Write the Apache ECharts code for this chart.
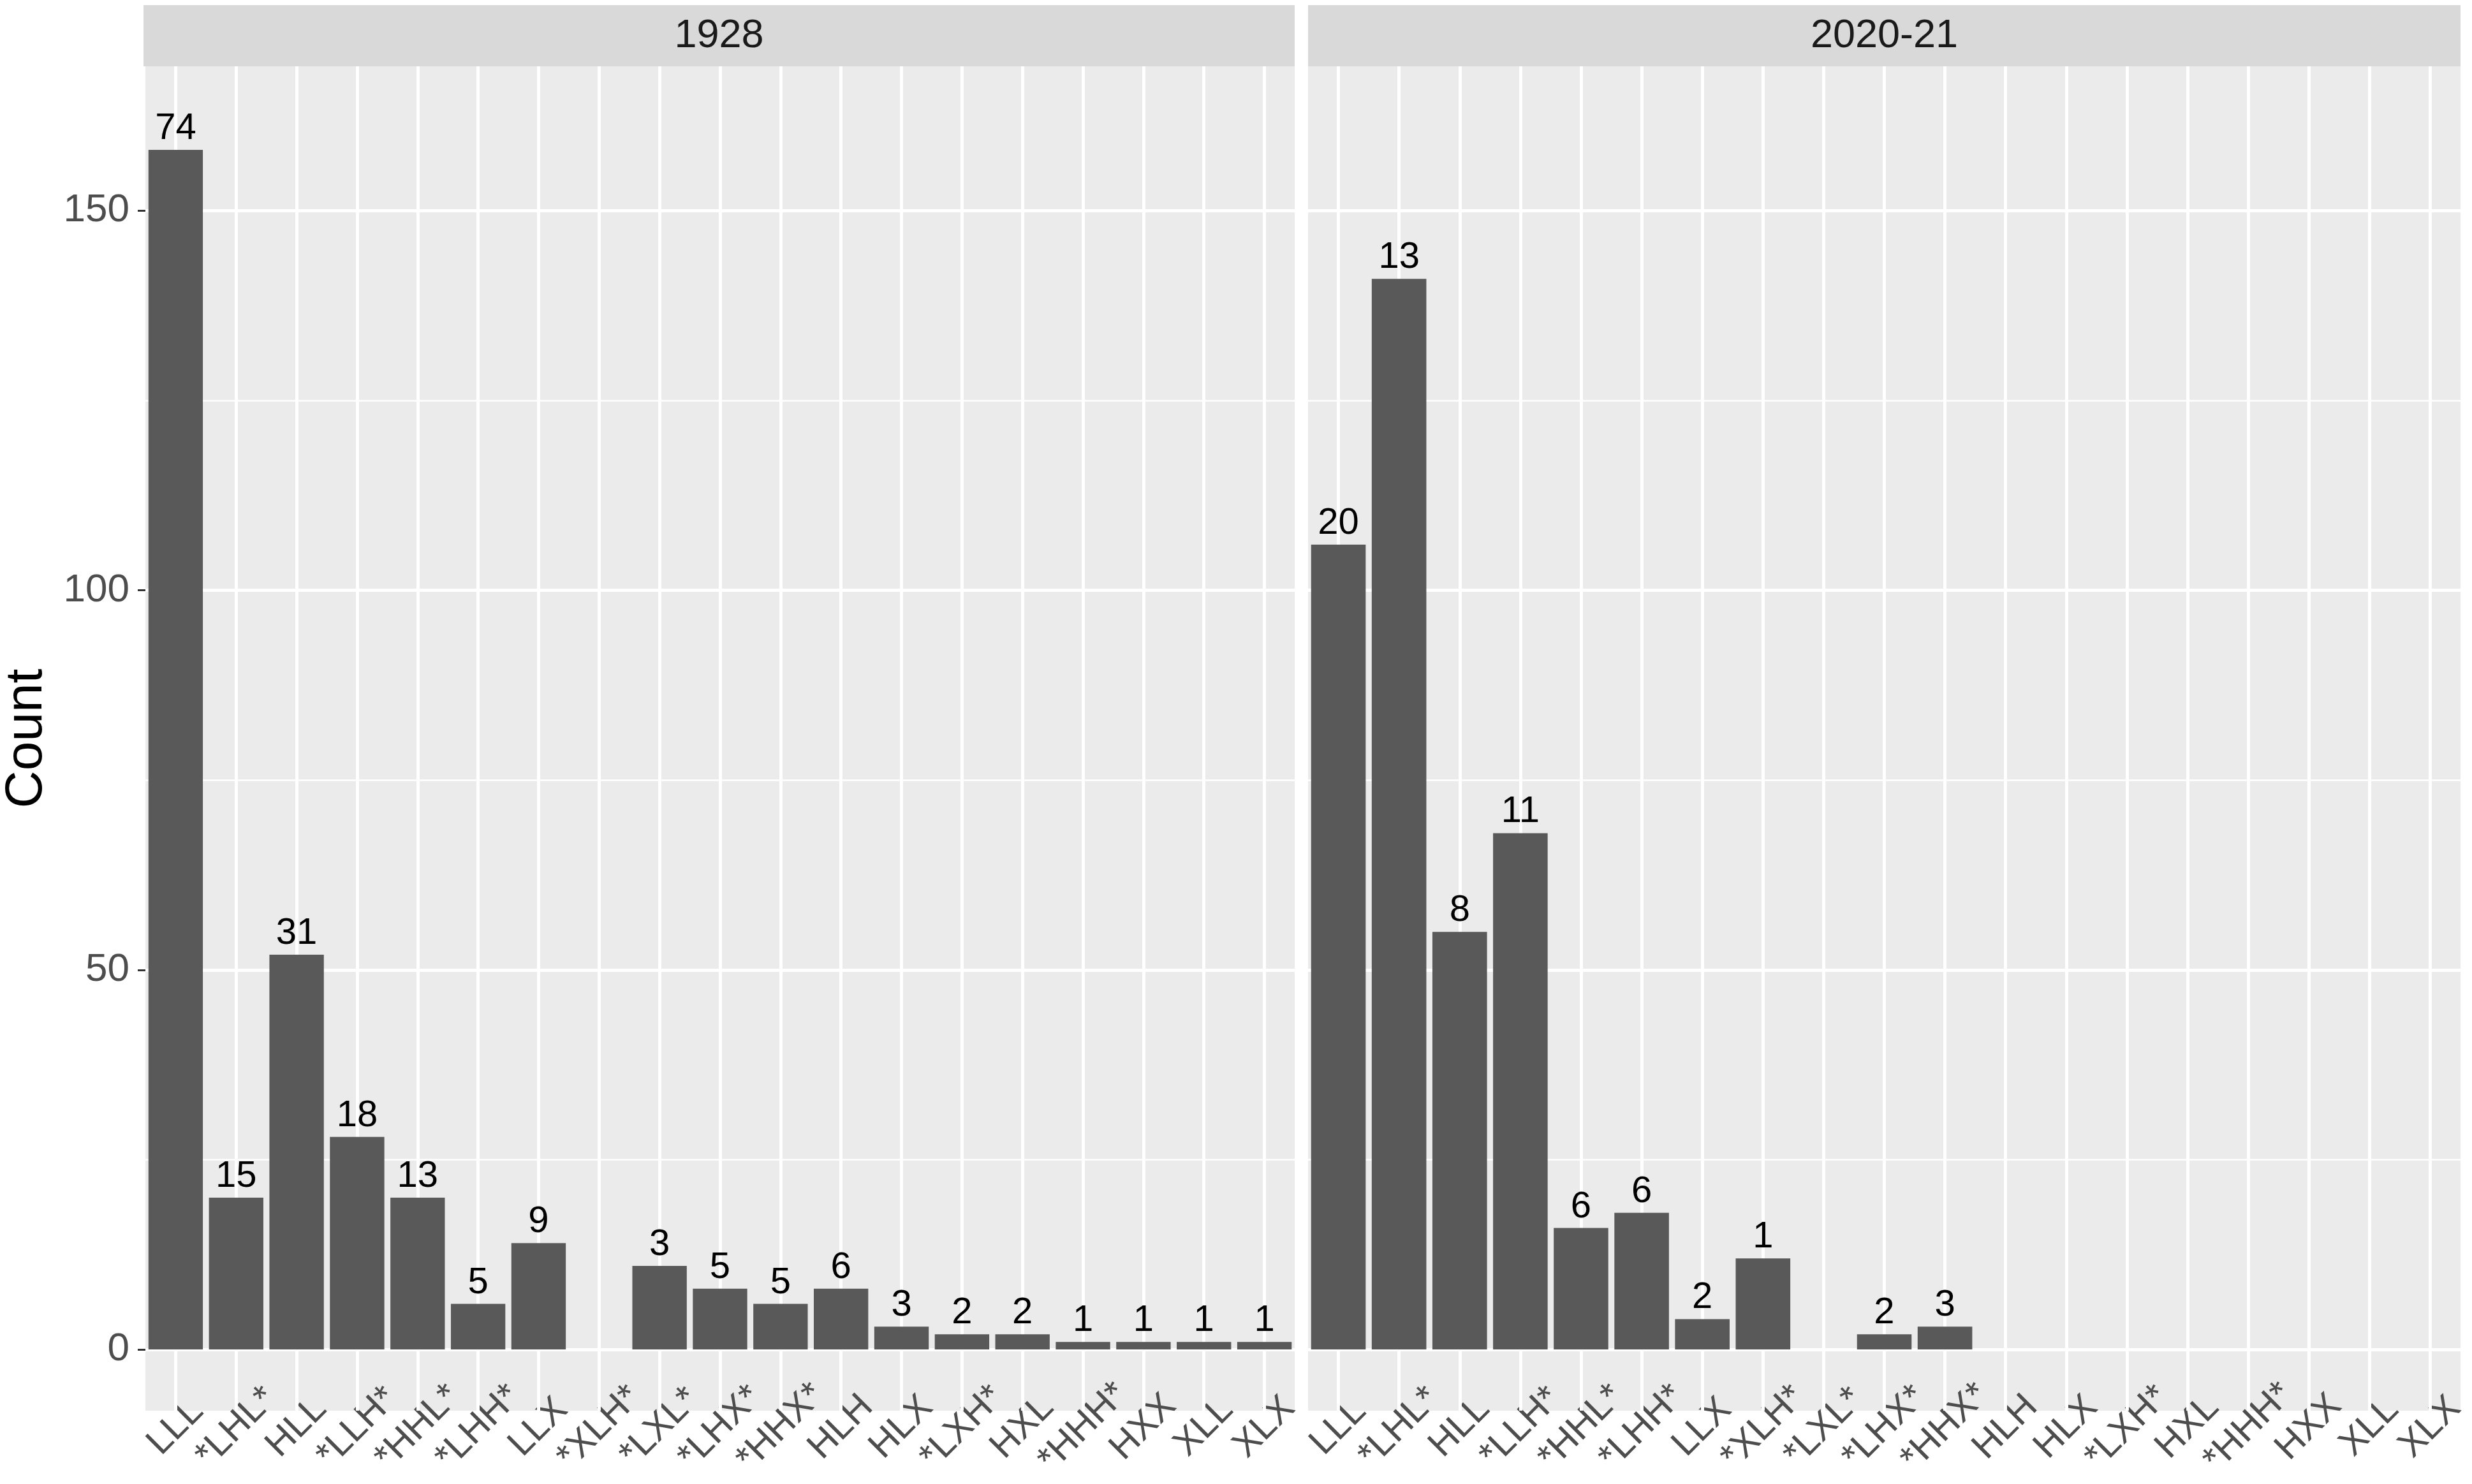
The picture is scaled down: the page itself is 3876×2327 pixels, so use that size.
<!DOCTYPE html>
<html>
<head>
<meta charset="utf-8">
<script src="https://cdn.jsdelivr.net/npm/echarts@6/dist/echarts.min.js"></script>
<style>
    html, body {margin: 0; padding: 0; background: #ffffff;}
    #chart {width: 3876px; height: 2327px;}
</style>
</head>
<body>
<div id="chart"></div>
<script>
    // categories shared by both panels
    const patterns = ['LLL', '*LHL*', 'HLL', '*LLH*', '*HHL*', '*LHH*', 'LLX', '*XLH*', '*LXL*', '*LHX*',
        '*HHX*', 'HLH', 'HLX', '*LXH*', 'HXL', '*HHH*', 'HXX', 'XLL', 'XLX'];

    const panelNames = ['1928', '2020-21'];

    // bar heights
    const count1928 = [158, 20, 52, 28, 20, 6, 14, 0, 11, 8, 6, 8, 3, 2, 2, 1, 1, 1, 1];
    const count2020 = [106, 141, 55, 68, 16, 18, 4, 12, 0, 2, 3, 0, 0, 0, 0, 0, 0, 0, 0];

    // numbers written on top of the bars
    const label1928 = [74, 15, 31, 18, 13, 5, 9, null, 3, 5, 5, 6, 3, 2, 2, 1, 1, 1, 1];
    const label2020 = [20, 13, 8, 11, 6, 6, 2, 1, null, 2, 3, null, null, null, null, null, null, null, null];

    const yMajor = [0, 50, 100, 150];
    const yMinor = [25, 75, 125];

    const font = '"Liberation Sans", Arial, sans-serif';

    const panels = [
        {left: 225, width: 1805},
        {left: 2051, width: 1807}
    ];
    const panelTop = 104;
    const panelHeight = 2108;

    const gridLines = () => {
        const lines = [];
        yMajor.forEach(v => lines.push({yAxis: v, lineStyle: {color: '#ffffff', width: 5, type: 'solid'}}));
        yMinor.forEach(v => lines.push({yAxis: v, lineStyle: {color: '#ffffff', width: 2.5, type: 'solid'}}));
        patterns.forEach((p, i) => lines.push({xAxis: i, lineStyle: {color: '#ffffff', width: 5, type: 'solid'}}));
        return lines;
    };

    const makeSeries = (idx, values, labels) => ({
        type: 'bar',
        xAxisIndex: idx,
        yAxisIndex: idx,
        data: values,
        barWidth: '90%',
        z: 3,
        itemStyle: {color: '#595959'},
        label: {
            show: true,
            position: 'top',
            distance: 4,
            fontFamily: font,
            fontSize: 58,
            color: '#000000',
            formatter: p => labels[p.dataIndex] == null ? '' : String(labels[p.dataIndex])
        },
        markLine: {
            silent: true,
            symbol: 'none',
            z: 1,
            animation: false,
            label: {show: false},
            data: gridLines()
        }
    });

    const makeXAxis = (idx) => ({
        type: 'category',
        gridIndex: idx,
        data: patterns,
        axisLine: {show: false},
        axisTick: {show: true, alignWithLabel: true, length: 12, lineStyle: {color: '#333333', width: 3}},
        splitLine: {show: false},
        axisLabel: {
            interval: 0,
            rotate: 45,
            align: 'center',
            verticalAlign: 'middle',
            margin: 26,
            padding: [34, 0, 0, 0],
            fontFamily: font,
            fontSize: 58,
            color: '#4d4d4d'
        }
    });

    const makeYAxis = (idx) => ({
        type: 'value',
        gridIndex: idx,
        min: -8.06,
        max: 169,
        splitLine: {show: false},
        axisLine: {show: false},
        axisTick: {show: idx === 0, length: 12, customValues: yMajor, lineStyle: {color: '#333333', width: 3}},
        axisLabel: {
            show: idx === 0,
            customValues: yMajor,
            margin: 25,
            fontFamily: font,
            fontSize: 62,
            color: '#4d4d4d'
        },
        name: idx === 0 ? 'Count' : '',
        nameLocation: 'middle',
        nameGap: 145,
        nameTextStyle: {fontFamily: font, fontSize: 82, color: '#000000'}
    });

    const stripGraphics = [];
    panels.forEach((p, i) => {
        stripGraphics.push({
            type: 'rect',
            left: p.left,
            top: 8,
            shape: {width: p.width, height: 96},
            style: {fill: '#d9d9d9'}
        });
        stripGraphics.push({
            type: 'text',
            x: p.left + p.width / 2,
            y: 57,
            style: {
                text: panelNames[i],
                fontFamily: font,
                fontSize: 63,
                fill: '#1a1a1a',
                align: 'center',
                verticalAlign: 'middle'
            }
        });
    });

    const chartDom = document.getElementById('chart');
    const myChart = echarts.init(chartDom);

    const option = {
        animation: false,
        backgroundColor: '#ffffff',
        grid: panels.map(p => ({
            left: p.left,
            top: panelTop,
            width: p.width,
            height: panelHeight,
            show: true,
            backgroundColor: '#ebebeb',
            borderWidth: 0
        })),
        xAxis: [makeXAxis(0), makeXAxis(1)],
        yAxis: [makeYAxis(0), makeYAxis(1)],
        graphic: stripGraphics,
        series: [
            makeSeries(0, count1928, label1928),
            makeSeries(1, count2020, label2020)
        ]
    };

    myChart.setOption(option);
</script>
</body>
</html>
